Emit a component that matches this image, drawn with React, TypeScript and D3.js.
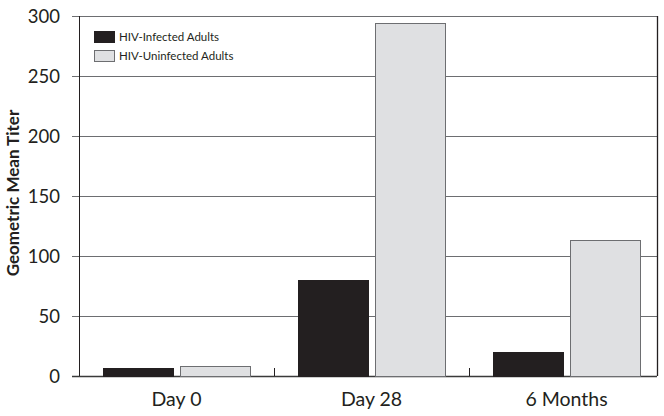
import React, { useRef, useEffect } from "react";
import * as d3 from "d3";

const categories = ["Day 0", "Day 28", "6 Months"];
const seriesNames = ["HIV-Infected Adults", "HIV-Uninfected Adults"];
const infected = [7, 80, 20];
const uninfected = [8, 294, 113];
const yTicks = [0, 50, 100, 150, 200, 250, 300];

const App = () => {
  const chartRef = useRef<HTMLDivElement>(null);

  useEffect(() => {
    document.body.style.margin = "0";

    const width = 664;
    const height = 416;
    const marginTop = 16;
    const marginLeft = 79;
    const frameRight = 657;
    const marginBottom = 40;
    const font = "Lato, 'Open Sans', sans-serif";

    const data = categories.flatMap((c, i) => [
      { group: c, subtype: seriesNames[0], value: infected[i] },
      { group: c, subtype: seriesNames[1], value: uninfected[i] },
    ]);

    const fx = d3.scaleBand()
      .domain(categories)
      .range([marginLeft, width])
      .padding(0);

    const x = d3.scaleBand()
      .domain(seriesNames)
      .range([0, fx.bandwidth()])
      .paddingInner(0.09)
      .paddingOuter(0.31);

    const y = d3.scaleLinear()
      .domain([0, 300])
      .range([height - marginBottom, marginTop]);

    const fill = d3.scaleOrdinal<string>()
      .domain(seriesNames)
      .range(["#231f20", "#dfe0e2"]);

    const svg = d3.create("svg")
      .attr("width", width)
      .attr("height", height)
      .attr("viewBox", [0, 0, width, height])
      .style("display", "block")
      .style("background", "#fff");

    // gridlines
    svg.append("g")
      .selectAll("line")
      .data(yTicks)
      .join("line")
      .attr("x1", marginLeft - 7)
      .attr("x2", frameRight)
      .attr("y1", d => Math.round(y(d)) + 0.5)
      .attr("y2", d => Math.round(y(d)) + 0.5)
      .attr("stroke", d => (d === 0 ? "#3a3a3a" : "#6d6e71"))
      .attr("stroke-width", d => (d === 0 ? 1.3 : 1));

    // tick labels
    svg.append("g")
      .selectAll("text")
      .data(yTicks)
      .join("text")
      .attr("x", 60)
      .attr("y", d => y(d))
      .attr("dy", "0.36em")
      .attr("text-anchor", "end")
      .style("font-family", font)
      .style("font-size", "18.5px")
      .attr("fill", "#231f20")
      .text(d => d);

    // axis + right frame
    svg.append("line")
      .attr("x1", marginLeft + 0.5).attr("x2", marginLeft + 0.5)
      .attr("y1", y(300)).attr("y2", y(0))
      .attr("stroke", "#231f20");
    svg.append("line")
      .attr("x1", frameRight + 0.5).attr("x2", frameRight + 0.5)
      .attr("y1", y(300)).attr("y2", y(0))
      .attr("stroke", "#231f20").attr("stroke-width", 1.3);

    // group separators
    svg.append("g")
      .selectAll("line")
      .data(categories.slice(1))
      .join("line")
      .attr("x1", d => Math.round(fx(d)!) + 0.5)
      .attr("x2", d => Math.round(fx(d)!) + 0.5)
      .attr("y1", y(0) - 8)
      .attr("y2", y(0))
      .attr("stroke", "#231f20");

    // bars
    svg.append("g")
      .selectAll("g")
      .data(d3.group(data, d => d.group))
      .join("g")
      .attr("transform", ([group]) => `translate(${fx(group)},0)`)
      .selectAll("rect")
      .data(([, d]) => d)
      .join("rect")
      .attr("x", d => Math.round(x(d.subtype)!) + 0.5)
      .attr("y", d => Math.round(y(d.value)) + 0.5)
      .attr("width", Math.round(x.bandwidth()))
      .attr("height", d => Math.round(y(0)) - Math.round(y(d.value)))
      .attr("fill", d => fill(d.subtype))
      .attr("stroke", d => (d.subtype === seriesNames[0] ? "#231f20" : "#6d6e71"))
      .attr("stroke-width", 1);

    // category labels
    svg.append("g")
      .selectAll("text")
      .data(categories)
      .join("text")
      .attr("x", d => fx(d)! + fx.bandwidth() / 2)
      .attr("y", 406)
      .attr("text-anchor", "middle")
      .style("font-family", font)
      .style("font-size", "19.5px")
      .attr("fill", "#231f20")
      .text(d => d);

    // y title
    svg.append("text")
      .attr("transform", `translate(19,193) rotate(-90)`)
      .attr("text-anchor", "middle")
      .style("font-family", font)
      .style("font-size", "17px")
      .style("font-weight", "bold")
      .attr("fill", "#231f20")
      .text("Geometric Mean Titer");

    // legend
    const legend = svg.append("g").attr("transform", "translate(94,31)");
    seriesNames.forEach((s, i) => {
      const row = legend.append("g").attr("transform", `translate(0,${i * 19})`);
      row.append("rect")
        .attr("x", 0.5).attr("y", 0.5)
        .attr("width", 20).attr("height", 11)
        .attr("fill", fill(s))
        .attr("stroke", i === 0 ? "#231f20" : "#6d6e71");
      row.append("text")
        .attr("x", 25)
        .attr("y", 10)
        .style("font-family", font)
        .style("font-size", "11.5px")
        .attr("fill", "#231f20")
        .text(s);
    });

    if (chartRef.current) {
      chartRef.current.innerHTML = "";
      chartRef.current.appendChild(svg.node()!);
    }
  }, []);

  return <div ref={chartRef} />;
};

export default App;
